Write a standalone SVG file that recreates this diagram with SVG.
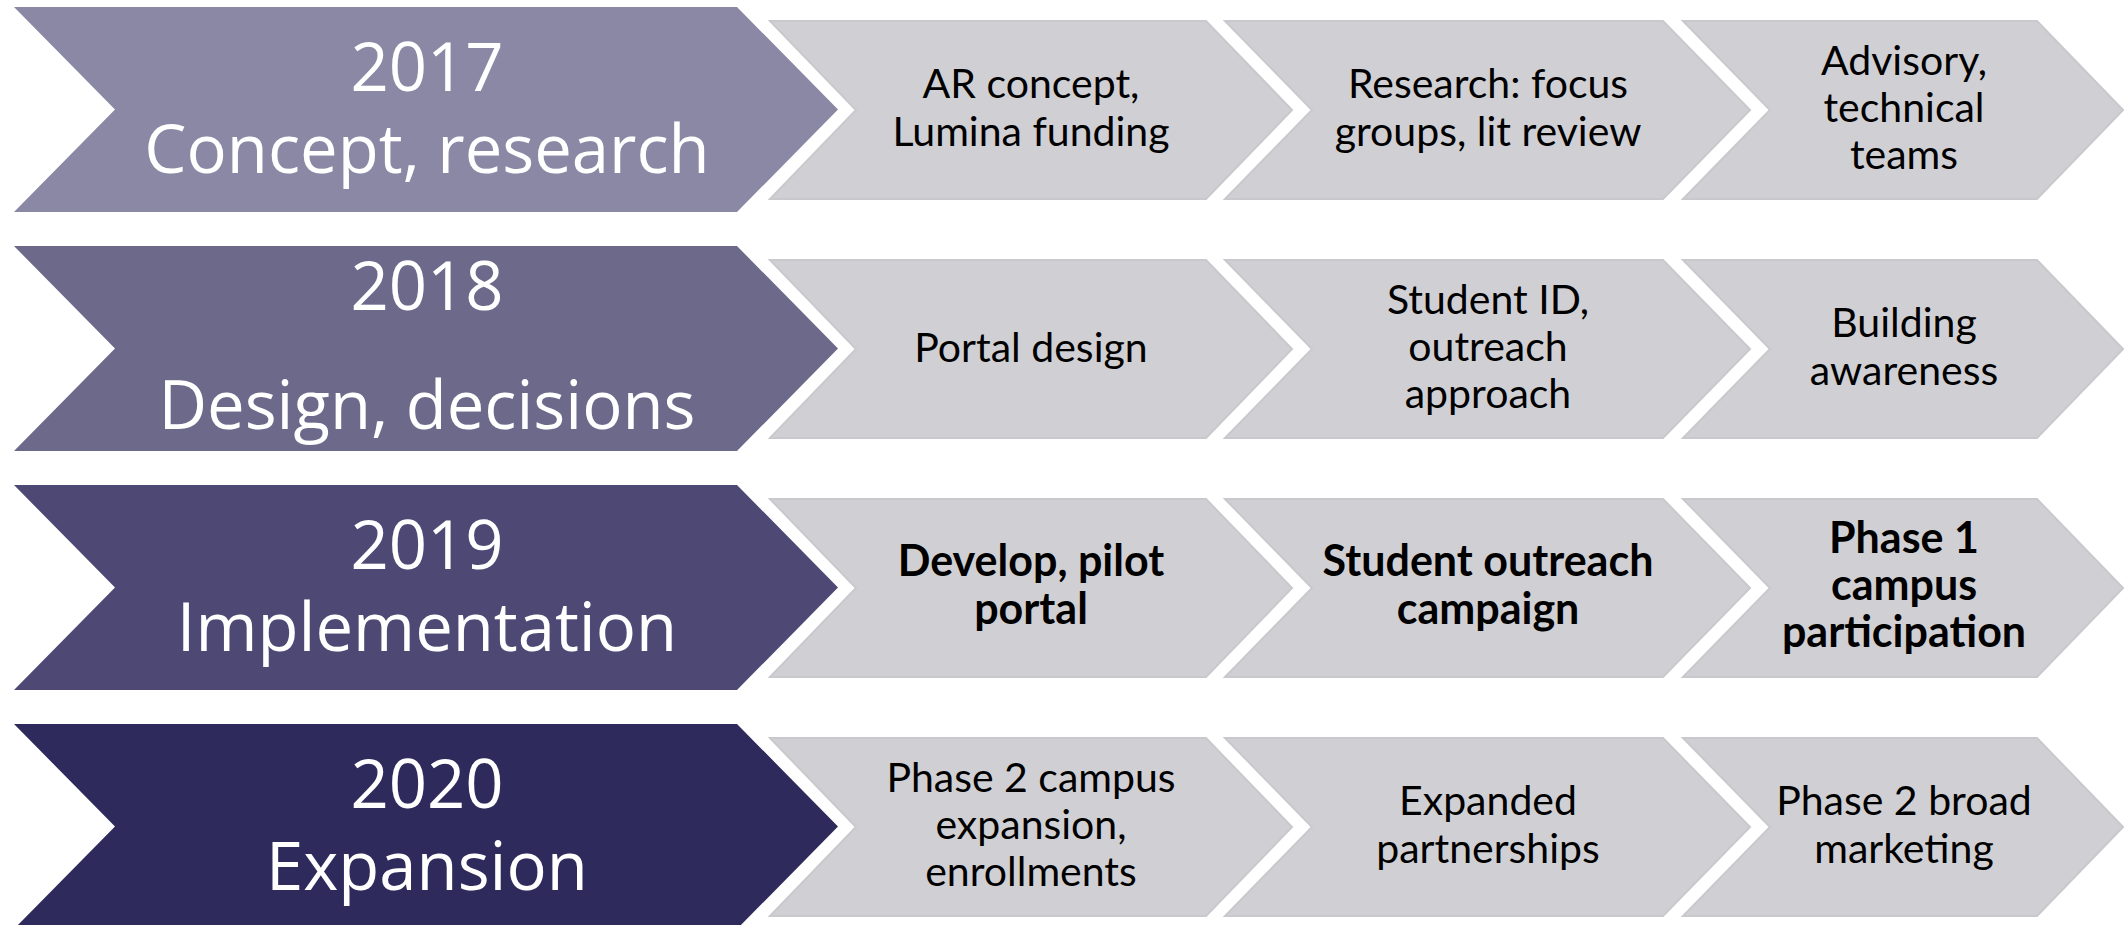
<svg xmlns="http://www.w3.org/2000/svg" width="2124" height="925" viewBox="0 0 2124 925">
<style>
.big{font-family:"Open Sans","Noto Sans",sans-serif;font-size:67px;fill:#fff;text-anchor:middle}
.g{fill:#D0D0D4;stroke:#C9C9CD;stroke-width:2}
.t{font-family:Lato,"Liberation Sans",sans-serif;font-size:41px;fill:#000;text-anchor:middle}
.b{font-weight:bold;font-size:43px}
</style>
<defs>
<polygon id="bigc" points="14,7 737,7 838,109.5 737,212 14,212 115,109.5"/>
<polygon id="g1" points="770,21 1206,21 1292,110 1206,199 770,199 856,110"/>
<polygon id="g2" points="1225,21 1663,21 1750,110 1663,199 1225,199 1312,110"/>
<polygon id="g3" points="1683,21 2037,21 2123,110 2037,199 1683,199 1770,110"/>
</defs>
<g id="row-2017">
<use href="#bigc" fill="#8A88A5"/>
<text class="big" x="427" y="91">2017</text>
<text class="big" x="427" y="173">Concept, research</text>
<g id="n2017-1"><use href="#g1" class="g"/><text class="t" x="1031" y="98">AR concept,</text><text class="t" x="1031" y="146">Lumina funding</text></g>
<g id="n2017-2"><use href="#g2" class="g"/><text class="t" x="1488" y="98">Research: focus</text><text class="t" x="1488" y="146">groups, lit review</text></g>
<g id="n2017-3"><use href="#g3" class="g"/><text class="t" x="1904" y="75">Advisory,</text><text class="t" x="1904" y="122">technical</text><text class="t" x="1904" y="169">teams</text></g>
</g>
<g id="row-2018" transform="translate(0,239)">
<use href="#bigc" fill="#6D698B"/>
<text class="big" x="427" y="71">2018</text>
<text class="big" x="427" y="190">Design, decisions</text>
<g id="n2018-1"><use href="#g1" class="g"/><text class="t" x="1031" y="123">Portal design</text></g>
<g id="n2018-2"><use href="#g2" class="g"/><text class="t" x="1488" y="75">Student ID,</text><text class="t" x="1488" y="122">outreach</text><text class="t" x="1488" y="169">approach</text></g>
<g id="n2018-3"><use href="#g3" class="g"/><text class="t" x="1904" y="98">Building</text><text class="t" x="1904" y="146">awareness</text></g>
</g>
<g id="row-2019" transform="translate(0,478)">
<use href="#bigc" fill="#4E4874"/>
<text class="big" x="427" y="91">2019</text>
<text class="big" x="427" y="173">Implementation</text>
<g id="n2019-1"><use href="#g1" class="g"/><text class="t b" x="1031" y="98">Develop, pilot</text><text class="t b" x="1031" y="146">portal</text></g>
<g id="n2019-2"><use href="#g2" class="g"/><text class="t b" x="1488" y="98">Student outreach</text><text class="t b" x="1488" y="146">campaign</text></g>
<g id="n2019-3"><use href="#g3" class="g"/><text class="t b" x="1904" y="75">Phase 1</text><text class="t b" x="1904" y="122">campus</text><text class="t b" x="1904" y="169">participation</text></g>
</g>
<g id="row-2020" transform="translate(0,717)">
<use href="#bigc" fill="#2E2A5B"/>
<text class="big" x="427" y="91">2020</text>
<text class="big" x="427" y="173">Expansion</text>
<g id="n2020-1"><use href="#g1" class="g"/><text class="t" x="1031" y="75">Phase 2 campus</text><text class="t" x="1031" y="122">expansion,</text><text class="t" x="1031" y="169">enrollments</text></g>
<g id="n2020-2"><use href="#g2" class="g"/><text class="t" x="1488" y="98">Expanded</text><text class="t" x="1488" y="146">partnerships</text></g>
<g id="n2020-3"><use href="#g3" class="g"/><text class="t" x="1904" y="98">Phase 2 broad</text><text class="t" x="1904" y="146">marketing</text></g>
</g>
<g id="connectors"/>
</svg>
